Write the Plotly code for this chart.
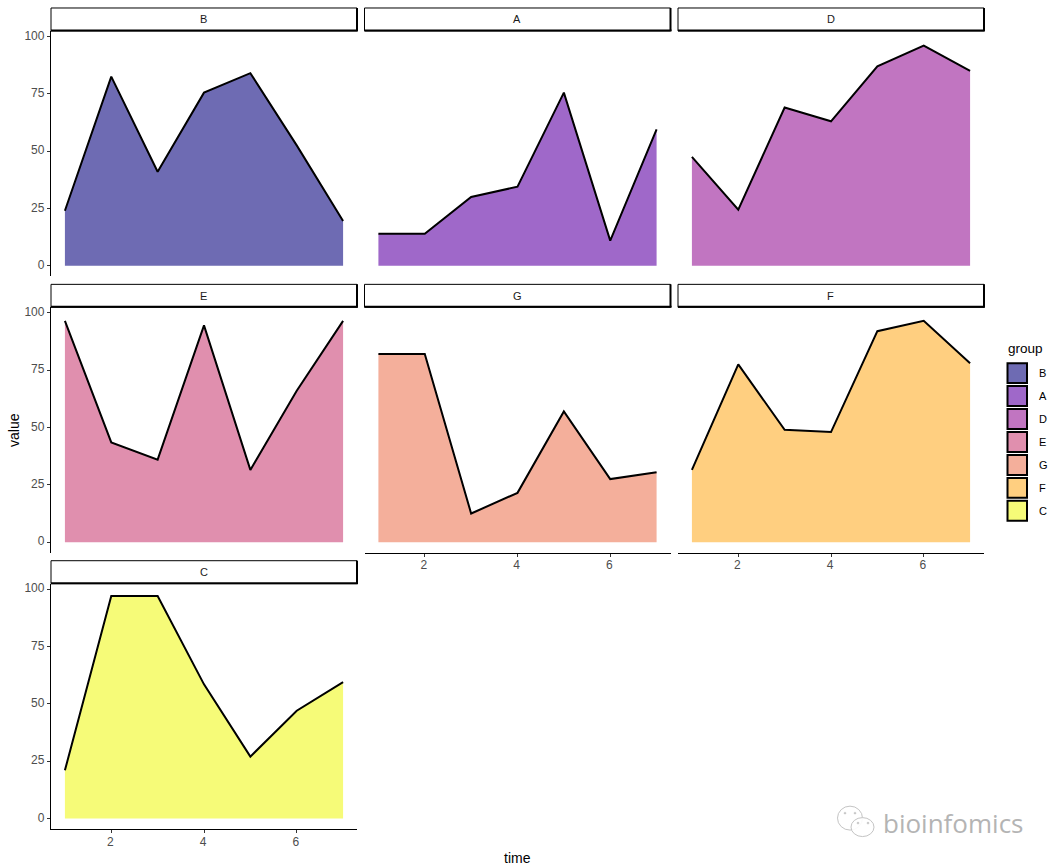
import plotly.graph_objects as go

W, H = 1057, 868
groups = ["B", "A", "D", "E", "G", "F", "C"]
time = [1, 2, 3, 4, 5, 6, 7]
val_B = [24, 82.5, 41, 75.5, 84, 52.5, 19.5]
val_A = [14, 14, 30, 34.5, 75.5, 11, 59.5]
val_D = [47.5, 24.5, 69, 63, 87, 96, 85]
val_E = [96.5, 43.5, 36, 94.5, 31.5, 66, 96.5]
val_G = [82, 82, 12.5, 21.5, 57, 27.5, 30.5]
val_F = [31.5, 77.5, 49, 48, 92, 96.5, 78]
val_C = [21, 97, 97, 58.5, 27, 47, 59.5]
values = [val_B, val_A, val_D, val_E, val_G, val_F, val_C]
colors = ["#6E6BB3", "#9F68C9", "#C175C1", "#E08FAE", "#F4AF9B", "#FFCF80", "#F6FB78"]
x_ticks = [2, 4, 6]
y_ticks = [0, 25, 50, 75, 100]

col_px = [(51, 357), (364.5, 670.5), (678, 984)]
row_px = [(29, 275), (306, 552), (583, 829)]
strip_h = 23
TICK = "#4D4D4D"
FONT = "Liberation Sans"


def fx(p):
    return p / W


def fy(p):
    return 1 - p / H


fig = go.Figure()
layout = {}
shapes = []
annotations = []


def ann(text, x, y, size, color="#000000", xanchor="center", family=FONT, angle=0):
    annotations.append(dict(text=text, x=fx(x), y=fy(y), xref="paper", yref="paper",
                            showarrow=False, xanchor=xanchor, yanchor="middle", textangle=angle,
                            font=dict(size=size, color=color, family=family)))


def line(x0, y0, x1, y1, width, color="#000000"):
    shapes.append(dict(type="line", xref="paper", yref="paper", x0=fx(x0), x1=fx(x1),
                       y0=fy(y0), y1=fy(y1), line=dict(color=color, width=width)))


def ellipse(cx, cy, rx, ry, width, color, fill):
    shapes.append(dict(type="circle", xref="paper", yref="paper", x0=fx(cx - rx), x1=fx(cx + rx),
                       y0=fy(cy + ry), y1=fy(cy - ry), line=dict(color=color, width=width), fillcolor=fill))


for i, g in enumerate(groups):
    r, c = divmod(i, 3)
    sfx = "" if i == 0 else str(i + 1)
    (x0, x1), (y0, y1) = col_px[c], row_px[r]
    show_x = (r == 2) or (r == 1 and c > 0)
    show_y = c == 0
    fig.add_trace(go.Scatter(x=time, y=values[i], mode="lines", fill="tozeroy",
                             fillcolor=colors[i], line=dict(color="#000000", width=2),
                             xaxis="x" + sfx, yaxis="y" + sfx, showlegend=False, name=g))
    layout["xaxis" + sfx] = dict(domain=[fx(x0), fx(x1)], range=[0.7, 7.3], anchor="y" + sfx,
                                 tickvals=x_ticks if show_x else [], showgrid=False, zeroline=False,
                                 showline=show_x, linecolor="#000000", linewidth=1.3,
                                 ticks="outside" if show_x else "", ticklen=3, tickwidth=1, tickcolor="#333333",
                                 tickfont=dict(size=12, color=TICK, family=FONT),
                                 ticklabelstandoff=-2, ticklabelshift=-1,
                                 showticklabels=show_x)
    layout["yaxis" + sfx] = dict(domain=[fy(y1), fy(y0)], range=[-4.6, 102.4], anchor="x" + sfx,
                                 tickvals=y_ticks if show_y else [], showgrid=False, zeroline=False,
                                 showline=show_y, linecolor="#000000", linewidth=1.3,
                                 ticks="outside" if show_y else "", ticklen=3, tickwidth=1, tickcolor="#333333",
                                 tickfont=dict(size=12, color=TICK, family=FONT),
                                 ticklabelshift=-1,
                                 showticklabels=show_y)
    # facet strip
    st, sb = y0 - strip_h, y0
    shapes.append(dict(type="rect", xref="paper", yref="paper", x0=fx(x0), x1=fx(x1), y0=fy(sb), y1=fy(st),
                       line=dict(color="#000000", width=1), fillcolor="#FFFFFF"))
    line(x0, sb - 0.5, x1 + 1, sb - 0.5, 2)
    line(x1, st, x1, sb, 2)
    ann(g, (x0 + x1) / 2 - 0.5, (st + sb) / 2, 11, "#1A1A1A")

# legend
ann("group", 1006, 347, 13.5, xanchor="left")
for i, g in enumerate(groups):
    yc = 372 + i * 23
    shapes.append(dict(type="rect", xref="paper", yref="paper", x0=fx(1007.5), x1=fx(1027), y0=fy(yc + 10),
                       y1=fy(yc - 10), line=dict(color="#000000", width=2), fillcolor=colors[i]))
    ann(g, 1037, yc, 11, xanchor="left")

# axis titles
ann("time", 517, 858, 14)
ann("value", 13.5, 429.5, 14, angle=-90)

# watermark
WM = "#B4B4B4"
ann("bioinfomics", 881, 823, 26, WM, xanchor="left", family="Open Sans")
ellipse(850, 818, 12.5, 12, 1, "#C4C4C4", "rgba(255,255,255,0.8)")
ellipse(862.5, 827, 11.5, 9.5, 1, "#C4C4C4", "rgba(255,255,255,0.9)")
for cx, cy in [(845, 813), (855, 813), (858, 823), (868, 823)]:
    ellipse(cx, cy, 1, 1, 0.5, "#C4C4C4", "#C4C4C4")

fig.update_layout(width=W, height=H, margin=dict(l=0, r=0, t=0, b=0), paper_bgcolor="#FFFFFF",
                  plot_bgcolor="#FFFFFF", shapes=shapes, annotations=annotations,
                  showlegend=False, **layout)
fig.write_html("out.html", post_script="document.body.style.margin='0';", config={"displayModeBar": False})
